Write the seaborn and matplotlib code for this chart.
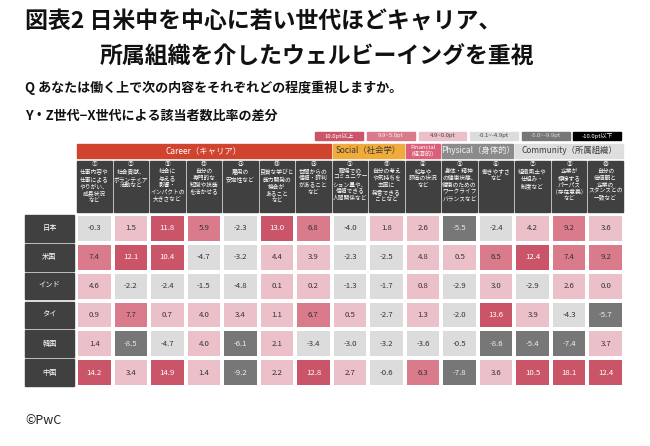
import numpy as np
import pandas as pd
import matplotlib.pyplot as plt
from matplotlib.colors import ListedColormap, BoundaryNorm
from matplotlib.patches import Rectangle
import seaborn as sns

sns.set_theme(style="white")
plt.rcParams['font.family'] = ['Noto Sans CJK JP', 'DejaVu Sans']

countries = ["日本", "米国", "インド", "タイ", "韓国", "中国"]

items = [
    "①\n仕事内容や\n仕事による\nやりがい、\n成長状況\nなど",
    "②\n社会貢献、\nボランティア\n活動など",
    "⑨\n社会に\n与える\n影響・\nインパクトの\n大きさなど",
    "⑫\n自分の\n専門的な\n知識や技能\nを活かせる",
    "⑬\n雇用の\n安定性など",
    "⑭\n良質な学びと\n能力開発の\n機会が\nあること\nなど",
    "⑮\n世間からの\n信頼・評判\nがあること\nなど",
    "③\n職場での\nコミュニケー\nション量や、\n信頼できる\n人間関係など",
    "⑪\n自分の考え\nや気持ちを\n率直に\n発言できる\nことなど",
    "④\n給与や\n評価の状況\nなど",
    "⑤\n身体・精神\nの健康状態、\n健康のための\nワークライフ\nバランスなど",
    "⑥\n働きやすさ\nなど",
    "⑦\n組織風土や\n仕組み・\n制度など",
    "⑧\n企業が\n標榜する\nパーパス\n（存在意義）\nなど",
    "⑩\n自分の\n価値観と\n企業の\nスタンスとの\n一致など",
]

groups = ["Career（キャリア）", "Social（社会学）", "Financial\n（経済的）", "Physical（身体的）", "Community（所属組織）"]
group_sizes = [7, 2, 1, 2, 3]
group_colors = ["#d0432f", "#f0ab3a", "#dc6079", "#8b8b8b", "#dedede"]
group_text = ["white", "#3a3a3a", "white", "#f2f2f2", "#3a3a3a"]

japan = [-0.3, 1.5, 11.8, 5.9, -2.3, 13.0, 6.8, -4.0, 1.8, 2.6, -5.5, -2.4, 4.2, 9.2, 3.6]
usa = [7.4, 12.1, 10.4, -4.7, -3.2, 4.4, 3.9, -2.3, -2.5, 4.8, 0.5, 6.5, 12.4, 7.4, 9.2]
india = [4.6, -2.2, -2.4, -1.5, -4.8, 0.1, 0.2, -1.3, -1.7, 0.8, -2.9, 3.0, -2.9, 2.6, 0.0]
thailand = [0.9, 7.7, 0.7, 4.0, 3.4, 1.1, 6.7, 0.5, -2.7, 1.3, -2.0, 13.6, 3.9, -4.3, -5.7]
korea = [1.4, -8.5, -4.7, 4.0, -6.1, 2.1, -3.4, -3.0, -3.2, -3.6, -0.5, -8.6, -5.4, -7.4, 3.7]
china = [14.2, 3.4, 14.9, 1.4, -9.2, 2.2, 12.8, 2.7, -0.6, 6.3, -7.8, 3.6, 10.5, 18.1, 12.4]

# bins from low to high
bounds = [-30, -9.95, -4.95, -0.05, 4.95, 9.95, 30]
bin_colors = ["#000000", "#777777", "#dcdcdc", "#ecc0c8", "#d97b8b", "#cb5568"]
bin_text = ["white", "#eeeeee", "#333333", "#333333", "#333333", "white"]
legend_labels = ["-10.0pt以下", "-5.0~-9.9pt", "-0.1~-4.9pt", "4.9~0.0pt", "9.9~5.0pt", "10.0pt以上"]
legend_text = ["white", "#dddddd", "#444444", "#444444", "#f4f4f4", "white"]

df = pd.DataFrame([japan, usa, india, thailand, korea, china], index=countries)

W, H = 650, 446
fig = plt.figure(figsize=(W / 100, H / 100), dpi=100)
fig.patch.set_facecolor("white")

ax = fig.add_axes([76 / W, 1 - 387 / H, 548 / W, 173 / H])
sns.heatmap(df, ax=ax, cmap=ListedColormap(bin_colors), norm=BoundaryNorm(bounds, 6),
            annot=True, fmt=".1f", annot_kws={"fontsize": 5.6},
            cbar=False, linewidths=1.5, linecolor="white",
            xticklabels=False, yticklabels=False)
ax.set_xlabel("")
ax.set_ylabel("")

# text colour per bin
for t in ax.texts:
    x, y = t.get_position()
    v = df.iloc[int(y), int(x)]
    t.set_color(bin_text[np.digitize(v, bounds) - 1])

dark = "#404040"
gx = 1 / 36.5
gy = 1 / 28.8

# row labels
for i, c in enumerate(countries):
    ax.add_patch(Rectangle((-1.40, i + gy * 1.1), 1.35, 1 - gy * 2.2, color=dark, clip_on=False))
    ax.text(-0.725, i + 0.5, c, ha="center", va="center", color="white", fontsize=5.2, clip_on=False)

# item headers
for j, lab in enumerate(items):
    ax.add_patch(Rectangle((j + gx, -1.85), 1 - 2 * gx, 1.78, color=dark, clip_on=False))
    ax.text(j + 0.5, -1.79, lab, ha="center", va="top", color="white", fontsize=4.15,
            linespacing=1.3, clip_on=False)

# group bars
start = 0
for g, n, col, tc in zip(groups, group_sizes, group_colors, group_text):
    ax.add_patch(Rectangle((start + gx, -2.44), n - 2 * gx, 0.49, color=col, clip_on=False))
    fs = 4.3 if "\n" in g else 6.0
    ax.text(start + n / 2, -2.195, g, ha="center", va="center", color=tc, fontsize=fs,
            linespacing=1.0, clip_on=False)
    start += n

# legend boxes
for k in range(6):
    b = 5 - k
    x0 = 6.55 + k * 1.413
    ax.add_patch(Rectangle((x0, -2.86), 1.31, 0.28, color=bin_colors[b], clip_on=False))
    ax.text(x0 + 0.655, -2.72, legend_labels[b], ha="center", va="center",
            color=legend_text[b], fontsize=4.3, clip_on=False)

# titles
fig.text(25 / W, 1 - 22 / H, "図表2 日米中を中心に若い世代ほどキャリア、", ha="left", va="center",
         fontsize=16.5, fontweight="bold", color="#111111")
fig.text(100 / W, 1 - 57 / H, "所属組織を介したウェルビーイングを重視", ha="left", va="center",
         fontsize=16.5, fontweight="bold", color="#111111")
fig.text(25 / W, 1 - 88 / H, "Q あなたは働く上で次の内容をそれぞれどの程度重視しますか。", ha="left", va="center",
         fontsize=9.4, fontweight="bold", color="#111111")
fig.text(25 / W, 1 - 116 / H, "Y・Z世代−X世代による該当者数比率の差分", ha="left", va="center",
         fontsize=9.4, fontweight="bold", color="#111111")
fig.text(25 / W, 1 - 421 / H, "©PwC", ha="left", va="center", fontsize=9, color="#222222")

fig.savefig("out.png", dpi=100)
